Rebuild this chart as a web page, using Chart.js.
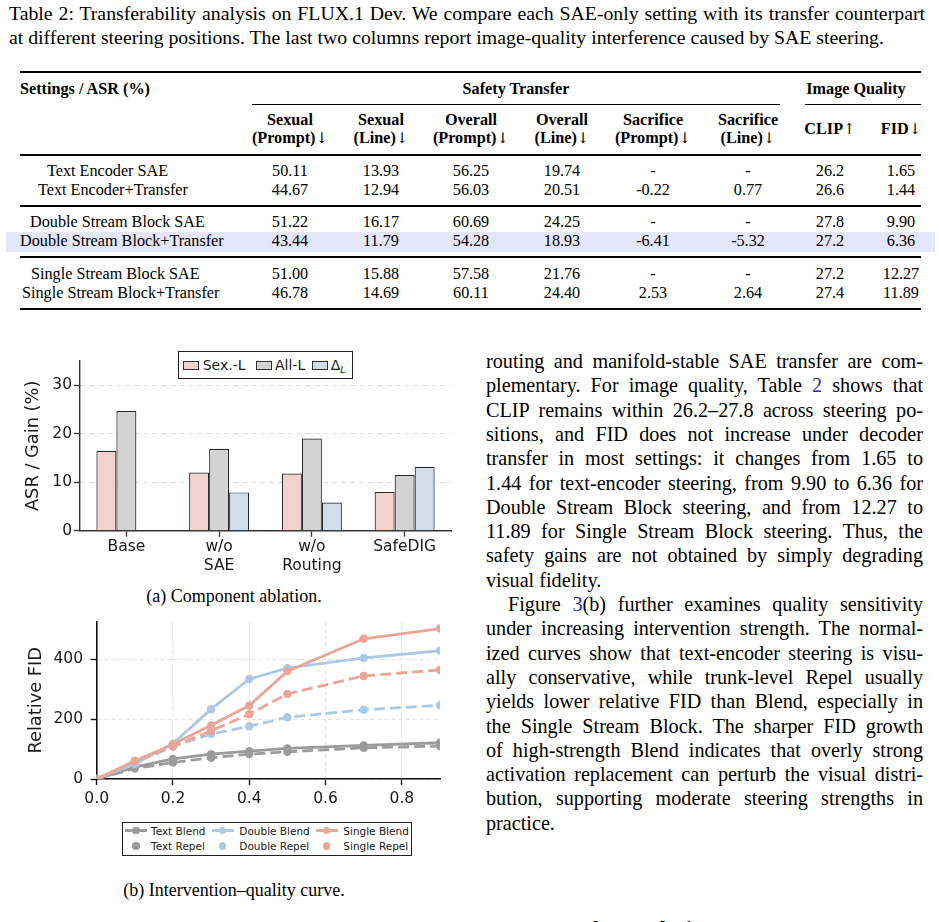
<!DOCTYPE html>
<html><head><meta charset="utf-8">
<script src="https://cdn.jsdelivr.net/npm/chart.js@4.4.1/dist/chart.umd.min.js"></script>
<style>
html,body{margin:0;padding:0;background:#fff;}
body{width:939px;height:922px;overflow:hidden;position:relative;font-family:"Liberation Serif","Times New Roman",serif;color:#000;}
.t{position:absolute;white-space:nowrap;line-height:1;}
.j{position:absolute;line-height:1;text-align:justify;text-align-last:justify;white-space:normal;}
.r{position:absolute;background:#000;}
canvas{position:absolute;}
.lk{color:#2b2bb0}
.ar{font-family:"DejaVu Serif",serif;font-weight:normal;font-size:15px;}
.box{position:absolute;box-sizing:border-box;border:1.4px solid #222;background:#fff;}
.sw{position:absolute;box-sizing:border-box;border:1px solid #333;}
</style></head><body>
<div style="position:absolute;left:6px;top:232px;width:929px;height:20px;background:#e6e6fa"></div>
<canvas id="bar" width="460" height="240" style="left:0;top:340px;width:460px;height:240px"></canvas>
<canvas id="line" width="460" height="210" style="left:0;top:610px;width:460px;height:210px"></canvas>
<script>
// ---------- chart data ----------
const barCategories = [['Base'], ['w/o', 'SAE'], ['w/o', 'Routing'], ['SafeDIG']];
const sexL   = [16.5, 12.0, 11.8, 8.0];
const allL   = [24.7, 16.9, 19.0, 11.5];
const deltaL = [0, 7.9, 5.8, 13.2];
const barYTicks = [0, 10, 20, 30];

const strengths   = [0, 0.1, 0.2, 0.3, 0.4, 0.5, 0.7, 0.9];
const textBlend   = [0, 40, 67, 83, 93, 102, 112, 121];
const textRepel   = [0, 35, 55, 71, 83, 91, 104, 110];
const doubleBlend = [0, 50, 118, 233, 334, 370, 404, 428];
const doubleRepel = [0, 55, 108, 150, 176, 206, 231, 246];
const singleBlend = [0, 60, 116, 179, 245, 360, 468, 502];
const singleRepel = [0, 60, 109, 161, 216, 284, 344, 364];
const lineXTicks = [0, 0.2, 0.4, 0.6, 0.8];
const lineXTickLabels = ['0.0', '0.2', '0.4', '0.6', '0.8'];
const lineYTicks = [0, 200, 400];

// ---------- text helper ----------
function put(html, x, base, o = {}) {
  const size = o.size || 16.2;
  const d = document.createElement('div');
  d.className = o.w ? 'j' : 't';
  d.innerHTML = html;
  d.style.fontSize = size + 'px';
  const sans = o.fam && o.fam.indexOf('DejaVu') >= 0;
  if (o.fam) d.style.fontFamily = o.fam;
  if (o.bold) d.style.fontWeight = 'bold';
  d.style.top = (base - (sans ? 0.846 : 0.8375) * size) + 'px';
  d.style.left = x + 'px';
  if (o.w) d.style.width = o.w + 'px';
  if (o.align === 'center') d.style.transform = 'translateX(-50%)';
  if (o.align === 'right') d.style.transform = 'translateX(-100%)';
  if (o.color) d.style.color = o.color;
  document.body.appendChild(d);
  return d;
}
function rule(x1, x2, y, h) {
  const d = document.createElement('div');
  d.className = 'r';
  d.style.left = x1 + 'px'; d.style.width = (x2 - x1) + 'px';
  d.style.top = y + 'px'; d.style.height = h + 'px';
  document.body.appendChild(d);
}

// ---------- table caption ----------
put('Table 2: Transferability analysis on FLUX.1 Dev. We compare each SAE-only setting with its transfer counterpart', 9, 20.5, {size: 19.8, w: 916});
put('at different steering positions. The last two columns report image-quality interference caused by SAE steering.', 9, 44.5, {size: 19.8});

// ---------- table ----------
rule(20, 921, 71, 2);
rule(252, 780, 103.5, 1.2);
rule(805, 921, 103.5, 1.2);
rule(20, 921, 154.3, 1.3);
rule(20, 921, 205.3, 1.3);
rule(20, 921, 256.3, 1.3);
rule(20, 921, 308, 2);

const DN = '<span class="ar">↓</span>', UP = '<span class="ar">↑</span>';
const colX = [290, 381, 471, 562, 653, 748, 830, 901];
put('Settings / ASR (%)', 20, 94.8, {bold: true});
put('Safety Transfer', 516, 94.8, {bold: true, align: 'center'});
put('Image Quality', 856, 94.8, {bold: true, align: 'center'});
const sub1 = ['Sexual', 'Sexual', 'Overall', 'Overall', 'Sacrifice', 'Sacrifice'];
const sub2 = ['(Prompt)', '(Line)', '(Prompt)', '(Line)', '(Prompt)', '(Line)'];
sub1.forEach((s, i) => {
  put(s, colX[i], 125.5, {bold: true, align: 'center'});
  put(sub2[i] + DN, colX[i], 143.2, {bold: true, align: 'center'});
});
put('CLIP' + UP, colX[6], 134.5, {bold: true, align: 'center'});
put('FID' + DN, colX[7], 134.5, {bold: true, align: 'center'});

const rows = [
  ['Text Encoder SAE', 47, 176.5, ['50.11', '13.93', '56.25', '19.74', '-', '-', '26.2', '1.65']],
  ['Text Encoder+Transfer', 38, 195.5, ['44.67', '12.94', '56.03', '20.51', '-0.22', '0.77', '26.6', '1.44']],
  ['Double Stream Block SAE', 30, 227.5, ['51.22', '16.17', '60.69', '24.25', '-', '-', '27.8', '9.90']],
  ['Double Stream Block+Transfer', 20, 246.5, ['43.44', '11.79', '54.28', '18.93', '-6.41', '-5.32', '27.2', '6.36']],
  ['Single Stream Block SAE', 31, 279.5, ['51.00', '15.88', '57.58', '21.76', '-', '-', '27.2', '12.27']],
  ['Single Stream Block+Transfer', 22, 298.5, ['46.78', '14.69', '60.11', '24.40', '2.53', '2.64', '27.4', '11.89']]
];
rows.forEach(r => {
  put(r[0], r[1], r[2]);
  r[3].forEach((v, i) => put(v, colX[i], r[2], {align: 'center'}));
});

// ---------- right column text ----------
const bodyLines = [
  'routing and manifold-stable SAE transfer are com-',
  'plementary. For image quality, Table <span class="lk">2</span> shows that',
  'CLIP remains within 26.2–27.8 across steering po-',
  'sitions, and FID does not increase under decoder',
  'transfer in most settings: it changes from 1.65 to',
  '1.44 for text-encoder steering, from 9.90 to 6.36 for',
  'Double Stream Block steering, and from 12.27 to',
  '11.89 for Single Stream Block steering. Thus, the',
  'safety gains are not obtained by simply degrading',
  'visual fidelity.',
  'Figure <span class="lk">3</span>(b) further examines quality sensitivity',
  'under increasing intervention strength. The normal-',
  'ized curves show that text-encoder steering is visu-',
  'ally conservative, while trunk-level Repel usually',
  'yields lower relative FID than Blend, especially in',
  'the Single Stream Block. The sharper FID growth',
  'of high-strength Blend indicates that overly strong',
  'activation replacement can perturb the visual distri-',
  'bution, supporting moderate steering strengths in',
  'practice.'
];
bodyLines.forEach((l, i) => {
  const base = 368 + 24.3 * i;
  if (i === 9 || i === 19) put(l, 486, base, {size: 20.2});
  else if (i === 10) put(l, 508, base, {size: 20.2, w: 415});
  else put(l, 486, base, {size: 20.2, w: 437});
});
put('<b>6.4</b>&emsp;<b>Transfer Analysis</b>', 486, 936, {size: 22});

// ---------- subfigure captions ----------
put('(a) Component ablation.', 234, 602, {size: 18, align: 'center'});
put('(b) Intervention–quality curve.', 234, 896, {size: 18, align: 'center'});

// ---------- colours ----------
const PINK_BAR = '#f1d2cd', GREY_BAR = '#d3d3d3', BLUE_BAR = '#d0dee9', EDGE = '#2a2a2a';
const GREY = '#9b9b9b', BLUE = '#adc8e5', PINK = '#e9a598';
const SANS = 'DejaVu Sans';
Chart.defaults.font.family = SANS;

// ---------- bar chart ----------
new Chart(document.getElementById('bar'), {
  type: 'bar',
  data: {
    labels: barCategories,
    datasets: [
      {label: 'Sex.-L', data: sexL, backgroundColor: PINK_BAR, borderColor: EDGE, borderWidth: 1.2},
      {label: 'All-L', data: allL, backgroundColor: GREY_BAR, borderColor: EDGE, borderWidth: 1.2},
      {label: 'ΔL', data: deltaL, backgroundColor: BLUE_BAR, borderColor: EDGE, borderWidth: 1.2}
    ]
  },
  options: {
    responsive: false, animation: false, devicePixelRatio: 1,
    layout: {padding: {top: 21, right: 9, left: 0, bottom: 0}},
    plugins: {legend: {display: false}, tooltip: {enabled: false}},
    datasets: {bar: {categoryPercentage: 0.647, barPercentage: 1}},
    scales: {
      x: {
        grid: {display: true, drawOnChartArea: false, offset: false, tickLength: 6, tickColor: '#333', tickWidth: 1.3},
        border: {color: '#333', width: 1.4},
        ticks: {font: {size: 15.5}, color: '#1a1a1a', padding: 1, maxRotation: 0, autoSkip: false},
        afterFit(s) { s.height = 49.3; s.paddingLeft = 0; s.paddingRight = 0; }
      },
      y: {
        min: 0, max: 35,
        afterBuildTicks(s) { s.ticks = barYTicks.map(v => ({value: v})); },
        ticks: {font: {size: 15.5}, color: '#1a1a1a', padding: 2},
        grid: {color: '#dddddd', lineWidth: 1, tickLength: 6, tickColor: '#333', tickWidth: 1.3},
        border: {color: '#333', width: 1.4, dash: [5, 4]},
        title: {display: true, text: 'ASR / Gain (%)', font: {size: 17.8}, color: '#1a1a1a', padding: {top: 22.5, bottom: 0}},
        afterFit(s) { s.width = 80; s.paddingTop = 0; s.paddingBottom = 0; }
      }
    }
  }
});

// ---------- line chart ----------
const series = [
  {label: 'Text Blend', data: textBlend, color: GREY, dash: []},
  {label: 'Text Repel', data: textRepel, color: GREY, dash: [11, 5]},
  {label: 'Double Blend', data: doubleBlend, color: BLUE, dash: []},
  {label: 'Double Repel', data: doubleRepel, color: BLUE, dash: [11, 5]},
  {label: 'Single Blend', data: singleBlend, color: PINK, dash: []},
  {label: 'Single Repel', data: singleRepel, color: PINK, dash: [11, 5]}
];
new Chart(document.getElementById('line'), {
  type: 'line',
  data: {
    datasets: series.map((s, i) => ({
      label: s.label,
      data: strengths.map((x, j) => ({x: x, y: s.data[j]})),
      borderColor: s.color, backgroundColor: s.color,
      pointBackgroundColor: s.color, pointBorderWidth: 0, pointRadius: 4.2,
      borderWidth: 2.8, borderDash: s.dash, tension: 0, fill: false,
      order: series.length - i
    }))
  },
  options: {
    responsive: false, animation: false, devicePixelRatio: 1,
    layout: {padding: {top: 11.7, right: 20, left: 0, bottom: 0}},
    plugins: {legend: {display: false}, tooltip: {enabled: false}},
    scales: {
      x: {
        type: 'linear', min: 0, max: 0.9,
        afterBuildTicks(s) { s.ticks = lineXTicks.map(v => ({value: v})); },
        ticks: {font: {size: 15.5}, color: '#1a1a1a', padding: 5, maxRotation: 0, autoSkip: false,
          callback: (v) => lineXTickLabels[lineXTicks.indexOf(v)]},
        grid: {color: '#e2e2e2', lineWidth: 1, tickLength: 6, tickColor: '#111', tickWidth: 1.4},
        border: {color: '#111', width: 1.6, dash: [4, 3]},
        afterFit(s) { s.height = 41; s.paddingLeft = 0; s.paddingRight = 0; }
      },
      y: {
        min: 0, max: 525,
        afterBuildTicks(s) { s.ticks = lineYTicks.map(v => ({value: v})); },
        ticks: {font: {size: 15.5}, color: '#1a1a1a', padding: 7.7},
        grid: {color: '#e2e2e2', lineWidth: 1, tickLength: 6, tickColor: '#111', tickWidth: 1.4},
        border: {color: '#111', width: 1.6, dash: [4, 3]},
        title: {display: true, text: 'Relative FID', font: {size: 17.8}, color: '#1a1a1a', padding: {top: 25.5, bottom: 0}},
        afterFit(s) { s.width = 96.7; s.paddingTop = 0; s.paddingBottom = 0; }
      }
    }
  }
});

// ---------- legends (HTML) ----------
function box(l, t, w, h, cls, bg) {
  const d = document.createElement('div');
  d.className = cls || 'box';
  d.style.left = l + 'px'; d.style.top = t + 'px';
  d.style.width = w + 'px'; d.style.height = h + 'px';
  if (bg) d.style.background = bg;
  document.body.appendChild(d);
  return d;
}
// bar legend
box(178, 351.3, 174.5, 28);
const barLeg = [
  [183.3, 202.7, PINK_BAR, 'Sex.-L'],
  [255.5, 275, GREY_BAR, 'All-L'],
  [311.7, 330.7, BLUE_BAR, 'Δ<span style="font-style:italic;font-size:9.5px;position:relative;top:3px">L</span>']
];
barLeg.forEach(b => {
  box(b[0], 360.5, 16, 9, 'sw', b[2]);
  put(b[3], b[1], 369.7, {size: 14, fam: SANS, color: '#1a1a1a'});
});
// line legend
box(121.7, 821.7, 290, 34);
const legCols = [[136, 151], [222.5, 239.3], [326.7, 343.3]];
const legRows = [830.7, 846];
series.forEach((s, i) => {
  const col = legCols[Math.floor(i / 2)], rowY = legRows[i % 2];
  if (s.dash.length === 0) {
    box(col[0] - 11, rowY - 1.3, 22, 2.6, 'r', s.color);
  }
  const dot = box(col[0] - 3.8, rowY - 3.8, 7.6, 7.6, 'r', s.color);
  dot.style.borderRadius = '50%';
  put(s.label, col[1], rowY + 3.8, {size: 10.5, fam: SANS, color: '#1a1a1a'});
});
</script>
</body></html>
